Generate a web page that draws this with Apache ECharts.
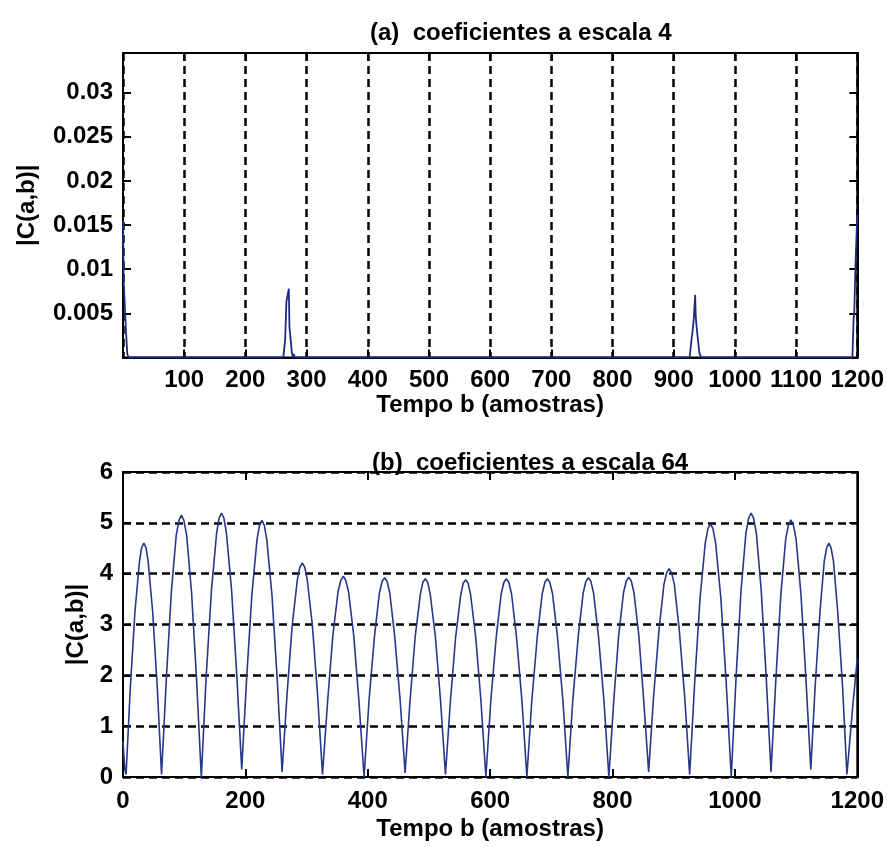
<!DOCTYPE html>
<html>
<head>
<meta charset="utf-8">
<script src="https://cdn.jsdelivr.net/npm/echarts@6/dist/echarts.min.js"></script>
<style>
  html, body { margin: 0; padding: 0; background: #fff; }
  #chart { width: 887px; height: 847px; }
</style>
</head>
<body>
<div id="chart"></div>
<script>
// (a) coeficientes a escala 4 - quase zero, picos nas descontinuidades
const topX = [0, 1, 3, 5, 7, 9,
  262, 265, 267, 269, 271, 272, 274, 276, 278, 279, 281,
  926, 929, 931, 933, 935, 936, 938, 940, 942, 945,
  1192, 1194, 1195, 1197, 1199, 1200];
const topY = [0.0155, 0.0088, 0.0086, 0.0028, 0.0004, 0,
  0, 0.002, 0.0063, 0.0065, 0.0078, 0.0035, 0.0033, 0.0005, 0, 0.0004, 0,
  0, 0.002, 0.0031, 0.0046, 0.0071, 0.0046, 0.003, 0.0031, 0.0005, 0,
  0, 0.0045, 0.005, 0.0105, 0.0107, 0.0162];

// (b) coeficientes a escala 64
const botX = [0, 1, 3, 5,
  12, 19.5, 27, 30.4, 34, 37.6, 41, 48.5, 56, 63,
  71, 79, 87, 91.5, 95.5, 99.5, 104, 112, 120, 128,
  136, 144.5, 153, 157, 161, 165, 169, 177.5, 186, 194,
  202, 210.5, 219, 223, 227, 231, 235, 243.5, 252, 260,
  268, 276.5, 285, 289, 293, 297, 301, 309.5, 318, 326,
  334.5, 343, 351.5, 356, 360, 364, 368.5, 377, 385.5, 394,
  402, 411, 419, 423.5, 427.5, 431.5, 436, 444, 453, 461,
  469, 477.5, 486, 490, 494, 498, 502, 510.5, 519, 527,
  535, 543.5, 552, 556, 560, 564, 568, 576.5, 585, 593,
  601, 610, 618, 622.5, 626.5, 630.5, 635, 643, 652, 660,
  668, 677, 685, 689.5, 693.5, 697.5, 702, 710, 719, 727,
  735, 744, 752, 756.5, 760.5, 764.5, 769, 777, 786, 794,
  802, 810, 818, 822.5, 826.5, 830.5, 835, 843, 851, 859,
  867, 876, 884, 888.5, 892.5, 896.5, 901, 909, 918, 926,
  934.5, 943, 951.5, 956, 960, 964, 968.5, 977, 985.5, 994,
  1002, 1010, 1018, 1022.5, 1026.5, 1030.5, 1035, 1043, 1051, 1059,
  1067, 1075, 1083, 1087.5, 1091.5, 1095.5, 1100, 1108, 1116, 1124,
  1131, 1139, 1146, 1150, 1153.5, 1157, 1161, 1168, 1176, 1183,
  1188, 1193, 1197, 1200];
const botY = [0.7, 0.5, 0.15, 0.05,
  1.76, 3.25, 4.25, 4.51, 4.6, 4.51, 4.25, 3.25, 1.76, 0.05,
  1.97, 3.64, 4.76, 5.05, 5.15, 5.05, 4.76, 3.64, 1.97, 0,
  1.99, 3.67, 4.8, 5.09, 5.19, 5.09, 4.8, 3.67, 1.99, 0.15,
  1.93, 3.57, 4.67, 4.95, 5.05, 4.95, 4.67, 3.57, 1.93, 0.1,
  1.61, 2.98, 3.89, 4.13, 4.21, 4.13, 3.89, 2.98, 1.61, 0.05,
  1.51, 2.79, 3.65, 3.87, 3.95, 3.87, 3.65, 2.79, 1.51, 0,
  1.5, 2.77, 3.62, 3.85, 3.92, 3.85, 3.62, 2.77, 1.5, 0.08,
  1.49, 2.76, 3.6, 3.83, 3.9, 3.83, 3.6, 2.76, 1.49, 0.05,
  1.49, 2.74, 3.59, 3.81, 3.88, 3.81, 3.59, 2.74, 1.49, 0,
  1.49, 2.76, 3.6, 3.83, 3.9, 3.83, 3.6, 2.76, 1.49, 0,
  1.49, 2.76, 3.6, 3.83, 3.9, 3.83, 3.6, 2.76, 1.49, 0,
  1.5, 2.77, 3.62, 3.85, 3.92, 3.85, 3.62, 2.77, 1.5, 0,
  1.5, 2.78, 3.63, 3.86, 3.93, 3.86, 3.63, 2.78, 1.5, 0.1,
  1.57, 2.9, 3.79, 4.02, 4.1, 4.02, 3.79, 2.9, 1.57, 0.05,
  1.91, 3.52, 4.6, 4.89, 4.98, 4.89, 4.6, 3.52, 1.91, 0,
  1.99, 3.67, 4.8, 5.09, 5.19, 5.09, 4.8, 3.67, 1.99, 0.1,
  1.94, 3.58, 4.68, 4.96, 5.06, 4.96, 4.68, 3.58, 1.94, 0.15,
  1.76, 3.25, 4.25, 4.51, 4.6, 4.51, 4.25, 3.25, 1.76, 0.05,
  0.75, 1.45, 1.95, 2.33];

const titles = ['(a)  coeficientes a escala 4', '(b)  coeficientes a escala 64'];
const xName = 'Tempo b (amostras)';
const yName = '|C(a,b)|';

const FONT = 'Liberation Sans';
const black = '#000';

const txt = { fontFamily: FONT, fontSize: 24, fontWeight: 'bold', color: black };
const boxLine = { show: true, onZero: false, lineStyle: { color: black, width: 2 } };
const tickIn = { show: true, inside: true, length: 8, lineStyle: { color: black, width: 2 } };
const dashed = { show: true, lineStyle: { color: black, width: 2.5, type: [8, 5] } };
const noSplit = { show: false };

// eixos "espelho" (só ticks, sem labels) no topo e à direita
function mirrorX(grid, interval) {
  return {
    gridIndex: grid, type: 'value', position: 'top', min: 0, max: 1200, interval: interval,
    axisLine: boxLine, axisTick: tickIn, axisLabel: { show: false }, splitLine: noSplit
  };
}
function mirrorY(grid, max, interval) {
  return {
    gridIndex: grid, type: 'value', position: 'right', min: 0, max: max, interval: interval,
    axisLine: boxLine, axisTick: tickIn, axisLabel: { show: false }, splitLine: noSplit
  };
}

const chart = echarts.init(document.getElementById('chart'));
const option = {
  animation: false,
  backgroundColor: '#fff',
  title: [
    { text: titles[0], left: 365, top: 16, textStyle: txt },
    { text: titles[1], left: 367, top: 446, textStyle: txt }
  ],
  grid: [
    { left: 123, top: 53, width: 737, height: 304.5, show: true, borderColor: black, borderWidth: 2 },
    { left: 123, top: 472, width: 737, height: 305, show: true, borderColor: black, borderWidth: 2 }
  ],
  xAxis: [
    {
      gridIndex: 0, type: 'value', position: 'bottom', min: 0, max: 1200, interval: 100,
      axisLine: boxLine, axisTick: tickIn, splitLine: dashed,
      axisLabel: Object.assign({ margin: 11, formatter: v => (v === 0 ? '' : String(v)) }, txt),
      name: xName, nameLocation: 'middle', nameGap: 27, nameTextStyle: txt
    },
    mirrorX(0, 100),
    {
      gridIndex: 1, type: 'value', position: 'bottom', min: 0, max: 1200, interval: 200,
      axisLine: boxLine, axisTick: tickIn, splitLine: noSplit,
      axisLabel: Object.assign({ margin: 12, formatter: v => String(v) }, txt),
      name: xName, nameLocation: 'middle', nameGap: 40, nameTextStyle: txt
    },
    mirrorX(1, 200)
  ],
  yAxis: [
    {
      gridIndex: 0, type: 'value', position: 'left', min: 0, max: 0.0345, interval: 0.005,
      axisLine: boxLine, axisTick: tickIn, splitLine: noSplit,
      axisLabel: Object.assign({
        margin: 10,
        formatter: v => (v <= 0 || v > 0.031 ? '' : String(parseFloat(v.toFixed(3))))
      }, txt),
      name: yName, nameLocation: 'middle', nameRotate: 90, nameGap: 84, nameTextStyle: txt
    },
    mirrorY(0, 0.0345, 0.005),
    {
      gridIndex: 1, type: 'value', position: 'left', min: 0, max: 6, interval: 1,
      axisLine: boxLine, axisTick: tickIn, splitLine: dashed,
      axisLabel: Object.assign({ margin: 10 }, txt),
      name: yName, nameLocation: 'middle', nameRotate: 90, nameGap: 34, nameTextStyle: txt
    },
    mirrorY(1, 6, 1)
  ],
  series: [
    {
      type: 'line', xAxisIndex: 0, yAxisIndex: 0, showSymbol: false, silent: true,
      lineStyle: { color: '#1c2a80', width: 1.8 },
      data: topX.map((x, i) => [x, topY[i]])
    },
    {
      type: 'line', xAxisIndex: 2, yAxisIndex: 2, showSymbol: false, silent: true,
      lineStyle: { color: '#26388a', width: 1.6 },
      data: botX.map((x, i) => [x, botY[i]])
    }
  ]
};
chart.setOption(option);
</script>
</body>
</html>
